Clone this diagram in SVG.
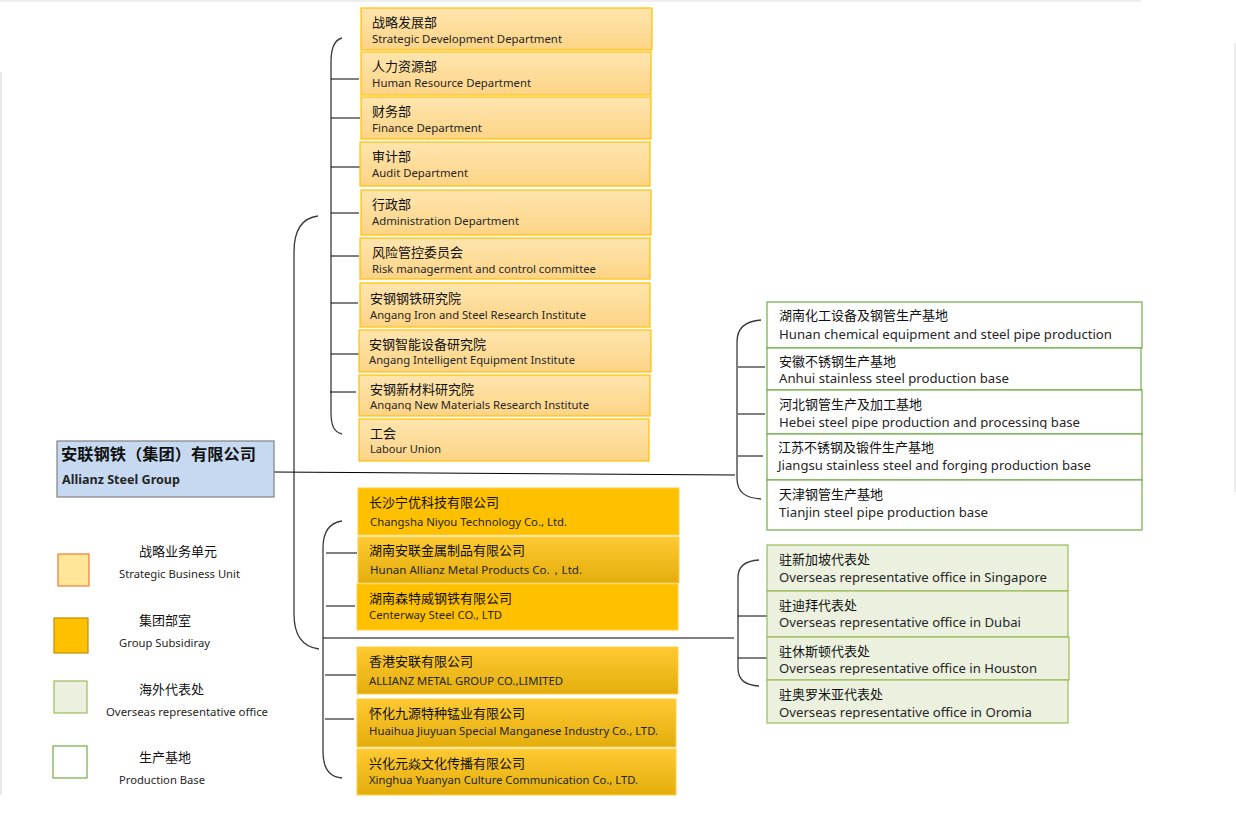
<svg xmlns="http://www.w3.org/2000/svg" width="1236" height="826" viewBox="0 0 1236 826">
<defs>
<linearGradient id="gDept" x1="0" y1="0" x2="0" y2="1"><stop offset="0" stop-color="#fee5ae"/><stop offset="1" stop-color="#fdd486"/></linearGradient>
<linearGradient id="gSub" x1="0" y1="0" x2="0" y2="1"><stop offset="0" stop-color="#ffc933"/><stop offset="1" stop-color="#e3ae0c"/></linearGradient>
<clipPath id="c1"><rect x="300" y="300" width="400" height="111"/></clipPath>
<clipPath id="c2"><rect x="760" y="380" width="400" height="49"/></clipPath>
<clipPath id="c3"><rect x="760" y="630" width="400" height="45"/></clipPath>
<clipPath id="c4"><rect x="760" y="675" width="400" height="44"/></clipPath>
<style>
.zh{font-family:"Noto Sans CJK SC","Noto Sans",sans-serif;font-size:13px;fill:#111}
.en{font-family:"Noto Sans","Open Sans",sans-serif;fill:#262626}
.d{font-size:11.5px}
.s{font-size:11.5px}
.p{font-size:13px}
.l{font-size:11px}
.dept{fill:url(#gDept);stroke:#ffc000;stroke-width:1.2}
.sub1{fill:#ffc000;stroke:#ffcf40;stroke-width:1}
.sub2{fill:url(#gSub);stroke:#ffcf40;stroke-width:1}
.prod{fill:#fff;stroke:#70ad47;stroke-width:1.2}
.ovs{fill:#ebf1de;stroke:#9bbb59;stroke-width:1.2}
.br{fill:none;stroke:#3a3a3a;stroke-width:1.3}
.tk{fill:none;stroke:#000;stroke-width:1}
</style>
</defs>
<rect width="1236" height="826" fill="#fff"/>
<rect x="0" y="0" width="1141" height="2" fill="#eeeeee"/>
<line x1="1" y1="72" x2="1" y2="795" stroke="#e0e0e0" stroke-width="1.5"/>
<line x1="1235" y1="43" x2="1235" y2="492" stroke="#e6e6e6" stroke-width="1.5"/>

<g id="connectors">
<path class="br" d="M318,216 C302,218 294,230 294,252 L294,614 C294,636 303,647 319,649"/>
<path class="br" d="M342,38 C334,40 331,48 331,62 L331,412 C331,426 334,432 342,434"/>
<path class="br" d="M342,521 C329,523 323,532 323,548 L323,752 C323,770 330,777 342,778"/>
<path class="br" d="M761,320 C745,321 737,328 737,342 L737,478 C737,492 745,498 761,499"/>
<path class="br" d="M759,560 C745,561 738,566 738,578 L738,668 C738,680 745,685 759,686"/>
<path class="tk" stroke="#555" d="M274,472 L735,475"/>
<path class="tk" d="M323,638 L734,638"/>
<path class="tk" d="M331,79 H359 M331,118 H360 M331,167 H361 M331,213 H359 M331,256 H359 M331,303 H358 M331,354 H359 M330,392 H356"/>
<path class="tk" d="M326,553 H357 M326,606 H355 M325,675 H356 M325,719 H354"/>
<path class="tk" d="M738,367 H765 M738,414 H765 M738,456 H763"/>
<path class="tk" d="M738,616 H767 M738,658 H767"/>
</g>

<g id="root">
<rect x="57" y="441" width="217" height="56" fill="#c6d9f0" stroke="#808080" stroke-width="1.2"/>
<text class="zh" x="61" y="460" style="font-size:15.5px;font-weight:bold" textLength="195" lengthAdjust="spacingAndGlyphs">安联钢铁（集团）有限公司</text>
<text class="en" x="62" y="484" style="font-size:13px;font-weight:bold" textLength="118" lengthAdjust="spacingAndGlyphs">Allianz Steel Group</text>
</g>

<g id="dept1"><rect class="dept" x="361" y="8" width="291" height="42"/><text class="zh" x="372" y="27">战略发展部</text><text class="en d" x="372" y="43" textLength="190" lengthAdjust="spacingAndGlyphs">Strategic Development Department</text></g>
<g id="dept2"><rect class="dept" x="361" y="52" width="290" height="43"/><text class="zh" x="372" y="71">人力资源部</text><text class="en d" x="372" y="87" textLength="159" lengthAdjust="spacingAndGlyphs">Human Resource Department</text></g>
<g id="dept3"><rect class="dept" x="361" y="97" width="290" height="42"/><text class="zh" x="372" y="116">财务部</text><text class="en d" x="372" y="132" textLength="110" lengthAdjust="spacingAndGlyphs">Finance Department</text></g>
<g id="dept4"><rect class="dept" x="360" y="142" width="290" height="44"/><text class="zh" x="372" y="161">审计部</text><text class="en d" x="372" y="177" textLength="96" lengthAdjust="spacingAndGlyphs">Audit Department</text></g>
<g id="dept5"><rect class="dept" x="361" y="190" width="290" height="45"/><text class="zh" x="372" y="209">行政部</text><text class="en d" x="372" y="225" textLength="147" lengthAdjust="spacingAndGlyphs">Administration Department</text></g>
<g id="dept6"><rect class="dept" x="360" y="238" width="290" height="41"/><text class="zh" x="372" y="257">风险管控委员会</text><text class="en d" x="372" y="273" textLength="224" lengthAdjust="spacingAndGlyphs">Risk managerment and control committee</text></g>
<g id="dept7"><rect class="dept" x="360" y="283" width="290" height="44"/><text class="zh" x="370" y="303">安钢钢铁研究院</text><text class="en d" x="370" y="319" textLength="216" lengthAdjust="spacingAndGlyphs">Angang Iron and Steel Research Institute</text></g>
<g id="dept8"><rect class="dept" x="359" y="330" width="292" height="42"/><text class="zh" x="369" y="349">安钢智能设备研究院</text><text class="en d" x="369" y="364" textLength="206" lengthAdjust="spacingAndGlyphs">Angang Intelligent Equipment Institute</text></g>
<g id="dept9"><rect class="dept" x="359" y="375" width="291" height="41"/><text class="zh" x="370" y="394">安钢新材料研究院</text><text class="en d" x="370" y="409" clip-path="url(#c1)" textLength="219" lengthAdjust="spacingAndGlyphs">Angang New Materials Research Institute</text></g>
<g id="dept10"><rect class="dept" x="359" y="419" width="290" height="42"/><text class="zh" x="370" y="438">工会</text><text class="en d" x="370" y="453" textLength="71" lengthAdjust="spacingAndGlyphs">Labour Union</text></g>

<g id="sub1"><rect class="sub1" x="358" y="488" width="321" height="47"/><text class="zh" x="369" y="507">长沙宁优科技有限公司</text><text class="en s" x="370" y="526" textLength="197" lengthAdjust="spacingAndGlyphs">Changsha Niyou Technology Co., Ltd.</text></g>
<g id="sub2"><rect class="sub2" x="358" y="537" width="321" height="46"/><text class="zh" x="369" y="555">湖南安联金属制品有限公司</text><text class="en s" x="370" y="574" textLength="212" lengthAdjust="spacingAndGlyphs">Hunan Allianz Metal Products Co.，Ltd.</text></g>
<g id="sub3"><rect class="sub1" x="357" y="584" width="321" height="46"/><text class="zh" x="369" y="603">湖南森特威钢铁有限公司</text><text class="en s" x="369" y="619" textLength="133" lengthAdjust="spacingAndGlyphs">Centerway Steel CO., LTD</text></g>
<g id="sub4"><rect class="sub2" x="357" y="647" width="321" height="47"/><text class="zh" x="369" y="666">香港安联有限公司</text><text class="en s" x="369" y="685" textLength="194" lengthAdjust="spacingAndGlyphs">ALLIANZ METAL GROUP CO.,LIMITED</text></g>
<g id="sub5"><rect class="sub2" x="357" y="699" width="319" height="48"/><text class="zh" x="369" y="718">怀化九源特种锰业有限公司</text><text class="en s" x="369" y="735" textLength="289" lengthAdjust="spacingAndGlyphs">Huaihua Jiuyuan Special Manganese Industry  Co., LTD.</text></g>
<g id="sub6"><rect class="sub2" x="357" y="749" width="319" height="46"/><text class="zh" x="369" y="768">兴化元焱文化传播有限公司</text><text class="en s" x="369" y="784" textLength="269" lengthAdjust="spacingAndGlyphs">Xinghua Yuanyan Culture Communication Co., LTD.</text></g>

<g id="prod1"><rect class="prod" x="767" y="302" width="375" height="46"/><text class="zh" x="779" y="320">湖南化工设备及钢管生产基地</text><text class="en p" x="779" y="339" textLength="333" lengthAdjust="spacingAndGlyphs">Hunan chemical equipment and steel pipe production</text></g>
<g id="prod2"><rect class="prod" x="767" y="348" width="374" height="42"/><text class="zh" x="779" y="366">安徽不锈钢生产基地</text><text class="en p" x="779" y="383" textLength="230" lengthAdjust="spacingAndGlyphs">Anhui stainless steel production base</text></g>
<g id="prod3"><rect class="prod" x="767" y="390" width="375" height="44"/><text class="zh" x="779" y="409">河北钢管生产及加工基地</text><text class="en p" x="779" y="427" clip-path="url(#c2)" textLength="301" lengthAdjust="spacingAndGlyphs">Hebei steel pipe production and processing base</text></g>
<g id="prod4"><rect class="prod" x="767" y="434" width="375" height="46"/><text class="zh" x="778" y="452">江苏不锈钢及锻件生产基地</text><text class="en p" x="778" y="470" textLength="313" lengthAdjust="spacingAndGlyphs">Jiangsu stainless steel and forging production base</text></g>
<g id="prod5"><rect class="prod" x="767" y="480" width="375" height="50"/><text class="zh" x="779" y="499">天津钢管生产基地</text><text class="en p" x="779" y="517" textLength="209" lengthAdjust="spacingAndGlyphs">Tianjin steel pipe production base</text></g>

<g id="ovs1"><rect class="ovs" x="767" y="545" width="301" height="46"/><text class="zh" x="779" y="564">驻新加坡代表处</text><text class="en p" x="779" y="582" textLength="268" lengthAdjust="spacingAndGlyphs">Overseas representative office in Singapore</text></g>
<g id="ovs2"><rect class="ovs" x="767" y="591" width="301" height="46"/><text class="zh" x="779" y="610">驻迪拜代表处</text><text class="en p" x="779" y="627" textLength="242" lengthAdjust="spacingAndGlyphs">Overseas representative office in Dubai</text></g>
<g id="ovs3"><rect class="ovs" x="767" y="637" width="302" height="43"/><text class="zh" x="779" y="656">驻休斯顿代表处</text><text class="en p" x="779" y="673" clip-path="url(#c3)" textLength="258" lengthAdjust="spacingAndGlyphs">Overseas representative office in Houston</text></g>
<g id="ovs4"><rect class="ovs" x="767" y="680" width="301" height="43"/><text class="zh" x="779" y="699">驻奥罗米亚代表处</text><text class="en p" x="779" y="717" clip-path="url(#c4)" textLength="253" lengthAdjust="spacingAndGlyphs">Overseas representative office in Oromia</text></g>

<g id="legend">
<rect x="58" y="554" width="31" height="32" fill="#ffe699" stroke="#ed7d31" stroke-width="1.2"/>
<text class="zh" x="139" y="556">战略业务单元</text>
<text class="en l" x="119" y="578" textLength="121" lengthAdjust="spacingAndGlyphs">Strategic Business Unit</text>
<rect x="54" y="618" width="34" height="35" fill="#ffc000" stroke="#bf9000" stroke-width="1.2"/>
<text class="zh" x="139" y="625">集团部室</text>
<text class="en l" x="119" y="647" textLength="91" lengthAdjust="spacingAndGlyphs">Group Subsidiray</text>
<rect x="54" y="681" width="33" height="32" fill="#ebf1de" stroke="#9bbb59" stroke-width="1.2"/>
<text class="zh" x="139" y="694">海外代表处</text>
<text class="en l" x="106" y="716" textLength="162" lengthAdjust="spacingAndGlyphs">Overseas representative office</text>
<rect x="53" y="746" width="34" height="32" fill="#fff" stroke="#70ad47" stroke-width="1.2"/>
<text class="zh" x="139" y="762">生产基地</text>
<text class="en l" x="119" y="784" textLength="86" lengthAdjust="spacingAndGlyphs">Production Base</text>
</g>
</svg>
